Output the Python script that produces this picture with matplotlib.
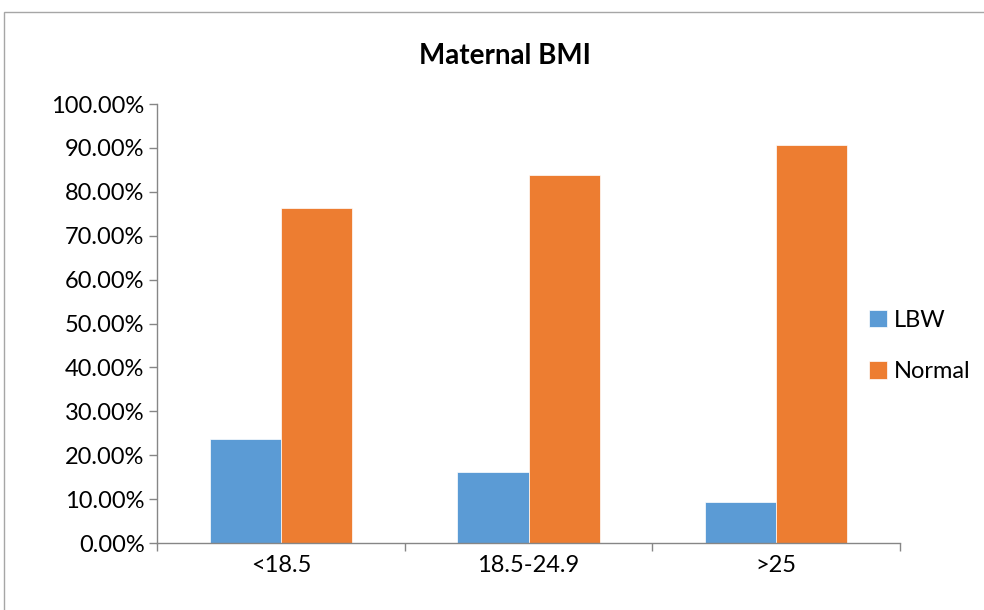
import numpy as np
import matplotlib.pyplot as plt
from matplotlib.patches import Rectangle
from matplotlib.ticker import FuncFormatter

categories = ['<18.5', '18.5-24.9', '>25']
lbw = [23.8, 16.2, 9.4]
normal = [76.2, 83.8, 90.6]

plt.rcParams['font.family'] = ['Lato', 'DejaVu Sans']

fig = plt.figure(figsize=(9.84, 6.10), dpi=100)
ax = fig.add_axes([157/984, 1-543/610, (900-157)/984, (543-104)/610])

# outer chart border like Excel
fig.patches.append(Rectangle((4/984, -0.01), 1.2, 1-12/610+0.01, transform=fig.transFigure,
                             fill=False, edgecolor='#a6a6a6', linewidth=1.0))

x = np.arange(len(categories))
w = 0.287
ax.bar(x - w/2, lbw, w, color='#5b9bd5', label='LBW', edgecolor='white', linewidth=0.5)
ax.bar(x + w/2, normal, w, color='#ed7d31', label='Normal', edgecolor='white', linewidth=0.5)

ax.set_xlim(-0.5, 2.5)
ax.set_ylim(0, 100)
ax.set_yticks(np.arange(0, 101, 10))
ax.yaxis.set_major_formatter(FuncFormatter(lambda v, p: '%.2f%%' % v))
ax.set_xticks(x)
ax.set_xticklabels(categories)
ax.set_xticks([-0.5, 0.5, 1.5, 2.5], minor=True)
ax.tick_params(axis='x', which='major', length=0, labelsize=17, pad=9)
ax.tick_params(axis='x', which='minor', length=6, color='#868686', width=1)
ax.tick_params(axis='y', length=6, color='#868686', width=1, labelsize=17, pad=3)

for s in ['top', 'right']:
    ax.spines[s].set_visible(False)
for s in ['left', 'bottom']:
    ax.spines[s].set_color('#868686')
    ax.spines[s].set_linewidth(1)

fig.text(505/984, 1-56/610, 'Maternal BMI', ha='center', va='center', fontsize=20, fontweight='bold')

leg = fig.legend(loc='center left', bbox_to_anchor=(869/984, 1-346/610), frameon=False,
                 fontsize=17, handlelength=0.75, handleheight=0.75, handletextpad=0.3,
                 labelspacing=1.3, borderaxespad=0, borderpad=0)

fig.savefig('out.png', dpi=100)
